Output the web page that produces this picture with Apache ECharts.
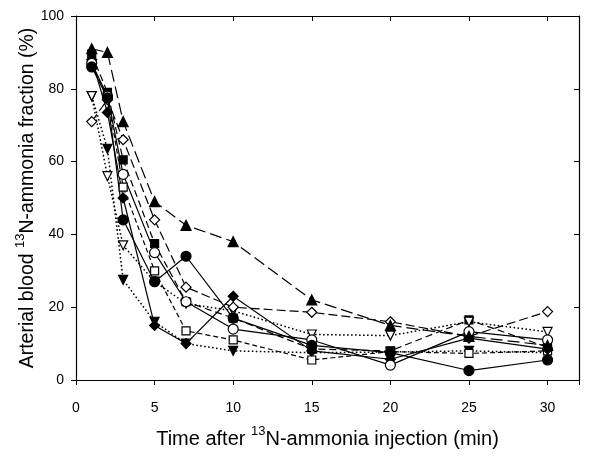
<!DOCTYPE html>
<html><head><meta charset="utf-8">
<script src="https://cdn.jsdelivr.net/npm/echarts@6/dist/echarts.min.js"></script>
<style>html,body{margin:0;padding:0;background:#fff}#c{width:594px;height:456px}</style>
</head><body><div id="c"></div>
<script>
const times = [1, 2, 3, 5, 7, 10, 15, 20, 25, 30];
const triUpFilled   = [91, 90, 71, 49, 42.5, 38, 22, 15, 12, 9.5];
const squareFilled  = [89.5, 79, 60.5, 37.5, 21.5, 17, 8.5, 8, 16.5, 9];
const circleFilled  = [86, 77.5, 44, 27, 34, 17, 9.5, 7.5, 2.6, 5.5];
const circleOpen    = [87, 78, 56.5, 35, 21.5, 14, 11, 4.1, 13.3, 11];
const triDownOpen   = [78, 56, 37, 27, 21, 19, 12.5, 12.2, 16, 13.2];
const triDownFilled = [78, 63.5, 27.5, 16, 10, 8, 7.5, 7.7, 8, 7.5];
const diamondOpen   = [71, 77, 66, 44, 25.5, 20, 18.6, 16, 12, 18.8];
const diamondFilled = [88, 73.5, 50, 15, 10, 23, 8, 5.7, 11.5, 8.5];
const squareOpen    = [86.5, 78, 53, 30, 13.5, 11, 5.5, 7.8, 7.3, 8];
const xTicks = [0, 5, 10, 15, 20, 25, 30];
const yTicks = [0, 20, 40, 60, 80, 100];

function pairs(v){ return times.map((t,i)=>[t, v[i]]); }
function mk(values, symbol, filled, lineType, size, rot, lw){
  return {
    type: 'line', data: pairs(values), symbol: symbol, symbolSize: size,
    symbolRotate: rot || 0, symbolKeepAspect: true,
    lineStyle: {color: '#000', width: lw || 1.2, type: lineType},
    itemStyle: {color: filled ? '#000' : '#fff', borderColor: '#000', borderWidth: 1.2},
    emphasis: {disabled: true}, animation: false, z: 2
  };
}
const chart = echarts.init(document.getElementById('c'), null, {renderer: 'canvas'});
const font = 'Liberation Sans, Arial, sans-serif';
const dot = [1.6, 2.4];
chart.setOption({
  animation: false,
  grid: {left: 76, right: 15, top: 16, bottom: 76},
  xAxis: [{
    type: 'value', min: 0, max: 32, interval: 5,
    axisLine: {show: true, onZero: false, lineStyle: {color: '#000', width: 1.2}},
    axisTick: {show: true, length: 5, inside: false, lineStyle: {color: '#000'}},
    splitLine: {show: false},
    axisLabel: {color: '#000', fontSize: 14, fontFamily: font, margin: 21,
      formatter: v => xTicks.includes(v) ? String(v) : ''},
    name: '{a|Time after }{s|13}{a|N-ammonia injection (min)}',
    nameLocation: 'middle', nameGap: 45, nameMoveOverlap: false,
    nameTextStyle: {rich: {
      a: {fontSize: 20, fontFamily: font, color: '#000', verticalAlign: 'bottom', lineHeight: 24},
      s: {fontSize: 13, fontFamily: font, color: '#000', verticalAlign: 'top', lineHeight: 24}
    }}
  }, {
    type: 'value', min: 0, max: 32, interval: 5, position: 'top',
    axisLine: {show: true, onZero: false, lineStyle: {color: '#000', width: 1.2}},
    axisTick: {show: true, length: 5, inside: true, lineStyle: {color: '#000'}},
    axisLabel: {show: false}, splitLine: {show: false}
  }],
  yAxis: [{
    type: 'value', min: 0, max: 100, interval: 20,
    axisLine: {show: true, onZero: false, lineStyle: {color: '#000', width: 1.2}},
    axisTick: {show: true, length: 5, inside: false, lineStyle: {color: '#000'}},
    splitLine: {show: false},
    axisLabel: {color: '#000', fontSize: 14, fontFamily: font, margin: 12,
      formatter: v => yTicks.includes(v) ? String(v) : ''},
    name: '{a|Arterial blood }{s|13}{a|N-ammonia fraction (%)}',
    nameLocation: 'middle', nameGap: 38, nameMoveOverlap: false,
    nameTextStyle: {rich: {
      a: {fontSize: 19.5, fontFamily: font, color: '#000', verticalAlign: 'bottom', lineHeight: 24},
      s: {fontSize: 13, fontFamily: font, color: '#000', verticalAlign: 'top', lineHeight: 24}
    }}
  }, {
    type: 'value', min: 0, max: 100, interval: 20, position: 'right',
    axisLine: {show: true, onZero: false, lineStyle: {color: '#000', width: 1.2}},
    axisTick: {show: true, length: 5, inside: true, lineStyle: {color: '#000'}},
    axisLabel: {show: false}, splitLine: {show: false}
  }],
  series: [
    mk(triDownFilled, 'triangle', true, dot, 9, 180, 1.5),
    mk(squareFilled, 'rect', true, [7, 4], 8),
    mk(triDownOpen, 'triangle', false, dot, 9, 180, 1.5),
    mk(squareOpen, 'rect', false, [5, 3], 8),
    mk(diamondOpen, 'diamond', false, [9, 4], 10),
    mk(diamondFilled, 'diamond', true, 'solid', 10),
    mk(circleOpen, 'circle', false, 'solid', 10),
    mk(circleFilled, 'circle', true, 'solid', 10),
    mk(triUpFilled, 'triangle', true, [12, 5], 10)
  ]
});
</script></body></html>
